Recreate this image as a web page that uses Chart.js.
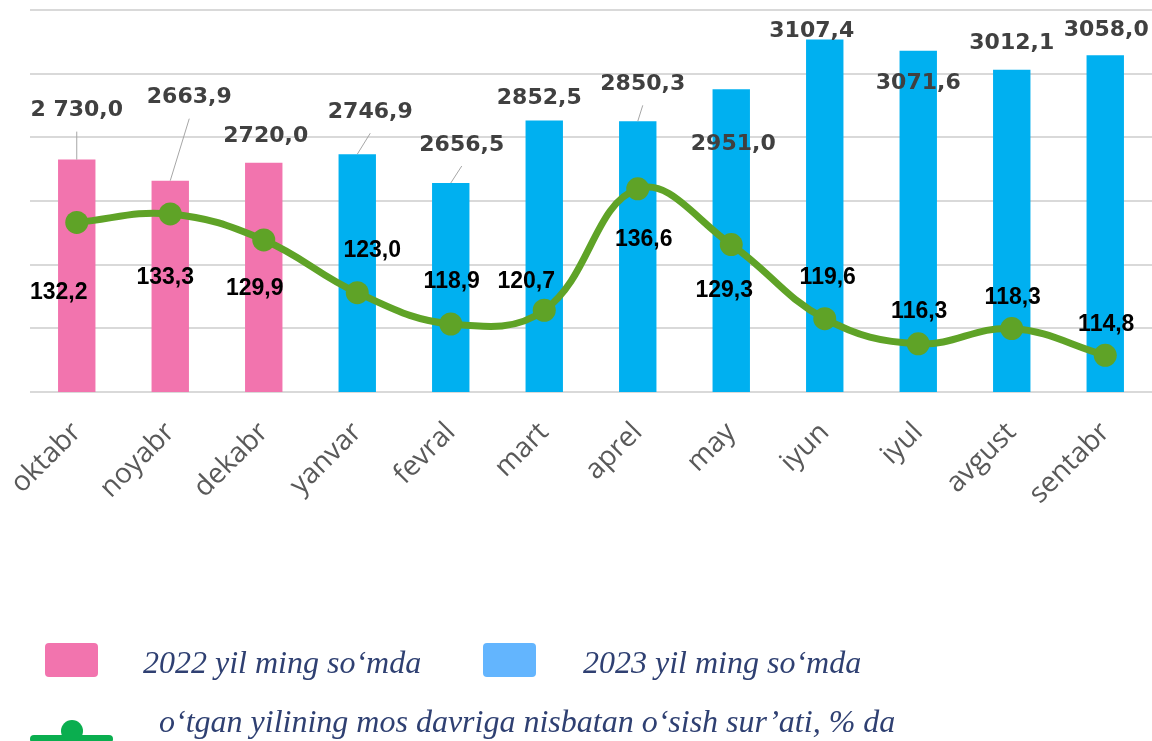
<!DOCTYPE html>
<html>
<head>
<meta charset="utf-8">
<script src="https://cdn.jsdelivr.net/npm/chart.js@4.4.1/dist/chart.umd.min.js"></script>
<style>
  html, body { margin: 0; padding: 0; background: #ffffff; }
  #wrap { width: 1152px; height: 741px; }
</style>
</head>
<body>
<div id="wrap"><canvas id="chart" width="1152" height="741"></canvas></div>
<script>
const months = ["oktabr", "noyabr", "dekabr", "yanvar", "fevral", "mart", "aprel", "may", "iyun", "iyul", "avgust", "sentabr"];
const sales2022 = [2730.0, 2663.9, 2720.0, null, null, null, null, null, null, null, null, null];
const sales2023 = [null, null, null, 2746.9, 2656.5, 2852.5, 2850.3, 2951.0, 3107.4, 3071.6, 3012.1, 3058.0];
const growthRate = [132.2, 133.3, 129.9, 123.0, 118.9, 120.7, 136.6, 129.3, 119.6, 116.3, 118.3, 114.8];

const seriesNames = ["2022 yil ming so‘mda", "2023 yil ming so‘mda", "o‘tgan yilining mos davriga nisbatan o‘sish sur’ati, % da"];

// where the labels sit relative to their bar top / point (like they were dragged in excel)
const barLabelShift = [[0, -49], [19, -83], [2, -27], [13, -42], [11, -38], [-5, -22], [5, -37], [2, 55], [-13, -8], [0, 32], [0, -27], [1, -25]];
const lineLabelShift = [[-18, 70], [-5, 64], [-9, 49], [15, -42], [1, -42], [-18, -29], [6, 51], [-7, 46], [3, -41], [1, -32], [1, -31], [1, -31]];

const fmt = (v) => v.toFixed(1).replace(".", ",");

const valueLabels = {
    id: "valueLabels",
    afterDatasetsDraw(chart) {
        const ctx = chart.ctx;
        ctx.save();
        ctx.textAlign = "center";
        ctx.textBaseline = "middle";

        [0, 1].forEach((di) => {
            const meta = chart.getDatasetMeta(di);
            meta.data.forEach((bar, i) => {
                const v = chart.data.datasets[di].data[i];
                if (v == null) return;
                const [dx, dy] = barLabelShift[i];
                const lx = bar.x + dx;
                const ly = bar.y + dy;
                if (dy < -30) {
                    ctx.strokeStyle = "#a6a6a6";
                    ctx.lineWidth = 1;
                    ctx.beginPath();
                    ctx.moveTo(bar.x, bar.y);
                    ctx.lineTo(lx, ly + 21);
                    ctx.stroke();
                }
                let text = fmt(v);
                if (i === 0) text = text.replace(/^(\d)(\d{3})/, "$1 $2");
                ctx.fillStyle = "#404040";
                ctx.font = "bold 22px 'DejaVu Sans'";
                ctx.fillText(text, lx, ly);
            });
        });

        const lineMeta = chart.getDatasetMeta(2);
        lineMeta.data.forEach((pt, i) => {
            const [dx, dy] = lineLabelShift[i];
            ctx.fillStyle = "#000000";
            ctx.font = "bold 23px 'Liberation Sans'";
            ctx.fillText(fmt(growthRate[i]), pt.x + dx, pt.y + dy);
        });
        ctx.restore();
    },
};

const bottomLegend = {
    id: "bottomLegend",
    afterDraw(chart) {
        const ctx = chart.ctx;
        ctx.save();
        ctx.fillStyle = "#f274ae";
        ctx.beginPath();
        ctx.roundRect(45, 643, 53, 34, 4);
        ctx.fill();
        ctx.fillStyle = "#63b5fe";
        ctx.beginPath();
        ctx.roundRect(483, 643, 53, 34, 4);
        ctx.fill();

        ctx.strokeStyle = "#0aae4f";
        ctx.lineWidth = 8;
        ctx.lineCap = "round";
        ctx.beginPath();
        ctx.moveTo(34, 739);
        ctx.lineTo(109, 739);
        ctx.stroke();
        ctx.fillStyle = "#0aae4f";
        ctx.beginPath();
        ctx.arc(72, 731, 11, 0, Math.PI * 2);
        ctx.fill();

        ctx.fillStyle = "#2f4072";
        ctx.font = "italic 32px 'Liberation Serif'";
        ctx.textAlign = "left";
        ctx.textBaseline = "alphabetic";
        ctx.fillText(seriesNames[0], 143, 673);
        ctx.fillText(seriesNames[1], 583, 673);
        ctx.fillText(seriesNames[2], 159, 732);
        ctx.restore();
    },
};

new Chart(document.getElementById("chart").getContext("2d"), {
    data: {
        labels: months,
        datasets: [
            {
                type: "bar",
                label: seriesNames[0],
                data: sales2022,
                backgroundColor: "#f274ae",
                grouped: false,
                categoryPercentage: 1,
                barPercentage: 0.4,
                yAxisID: "y",
                order: 2,
            },
            {
                type: "bar",
                label: seriesNames[1],
                data: sales2023,
                backgroundColor: "#00b0f0",
                grouped: false,
                categoryPercentage: 1,
                barPercentage: 0.4,
                yAxisID: "y",
                order: 2,
            },
            {
                type: "line",
                label: seriesNames[2],
                data: growthRate,
                borderColor: "#5fa327",
                backgroundColor: "#5fa327",
                borderWidth: 7,
                tension: 0.4,
                pointRadius: 11.5,
                pointBorderWidth: 0,
                pointBackgroundColor: "#5fa327",
                yAxisID: "y2",
                order: 0,
            },
        ],
    },
    options: {
        responsive: false,
        animation: false,
        layout: {
            autoPadding: false,
            padding: { left: 30, right: 0, top: 10, bottom: 0 },
        },
        plugins: {
            legend: { display: false },
            tooltip: { enabled: false },
        },
        scales: {
            x: {
                grid: { display: false },
                border: { display: false },
                ticks: {
                    autoSkip: false,
                    minRotation: 45,
                    maxRotation: 45,
                    padding: 16,
                    color: "#595959",
                    font: { family: "'Open Sans'", size: 28 },
                },
                afterFit: (axis) => {
                    axis.height = 349;
                    axis.paddingLeft = 0;
                    axis.paddingRight = 0;
                },
            },
            y: {
                position: "left",
                min: 2000,
                max: 3200,
                ticks: { display: false, stepSize: 200 },
                grid: { color: "#d9d9d9", lineWidth: 2, drawTicks: false },
                border: { display: false },
                afterFit: (axis) => {
                    axis.width = 0;
                },
            },
            y2: {
                position: "right",
                min: 110,
                max: 160,
                display: false,
            },
        },
    },
    plugins: [valueLabels, bottomLegend],
});
</script>
</body>
</html>
